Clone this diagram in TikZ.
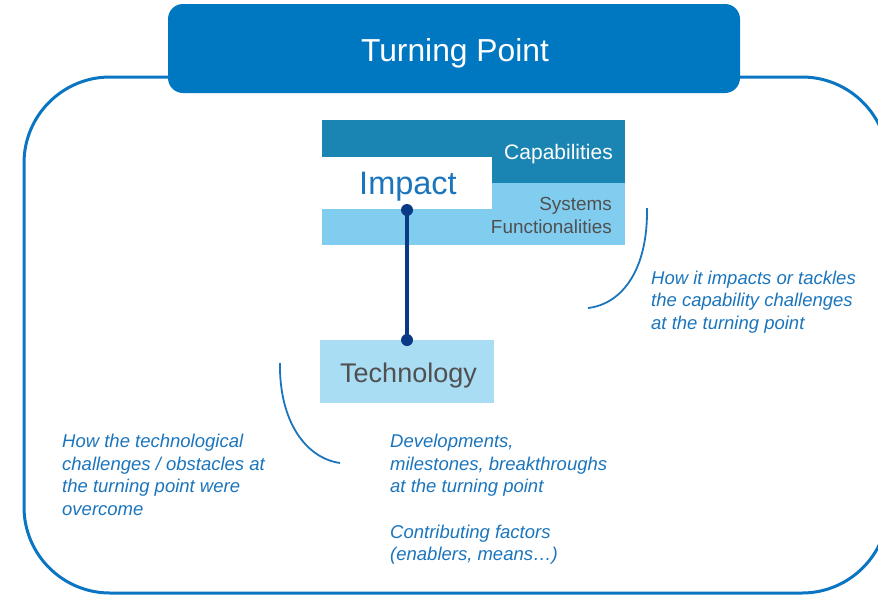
\documentclass[tikz,border=0pt]{standalone}
\usepackage{fontspec}
\setmainfont{Liberation Sans}
\definecolor{titleblue}{HTML}{0077C1}
\definecolor{borderblue}{HTML}{0A75C2}
\definecolor{capteal}{HTML}{1A84B2}
\definecolor{syslight}{HTML}{80CDEF}
\definecolor{techlight}{HTML}{A9DDF3}
\definecolor{navy}{HTML}{0A3A85}
\definecolor{textblue}{HTML}{1B75BC}
\definecolor{graytext}{HTML}{505050}
\begin{document}
\begin{tikzpicture}[x=1pt,y=-1pt,
  note/.style={font=\fontsize{18.5}{22.6}\selectfont\itshape, text=textblue, align=left, anchor=north west, inner sep=0pt},
  bracket/.style={draw=textblue, line width=1.8pt},
  dotnode/.style={circle, fill=navy, minimum size=12pt, inner sep=0pt}]
\useasboundingbox (0,0) rectangle (878,595);
% outer frame
\draw[borderblue, line width=3pt, rounded corners=86pt] (24,77) rectangle (888,593);
% title
\node[fill=titleblue, rounded corners=15pt, minimum width=572pt, minimum height=89pt, inner sep=0pt] (title) at (454,48.5) {};
\node[font=\fontsize{31.8}{36}\selectfont, text=white, anchor=base, inner sep=0pt] (titletext) at (455,61) {Turning Point};
% impact block
\fill[capteal] (322,120) rectangle (625,183);
\fill[syslight] (322,183) rectangle (625,245);
\fill[white] (322,157) rectangle (492,209);
\node[font=\fontsize{32.5}{36}\selectfont, text=textblue, anchor=base, inner sep=0pt] (impact) at (408,194) {Impact};
\node[font=\fontsize{21}{24}\selectfont, text=white, anchor=base east, inner sep=0pt] (cap) at (613,159) {Capabilities};
\node[font=\fontsize{18.9}{23}\selectfont, text=graytext, anchor=base east, inner sep=0pt] (sys) at (612,210) {Systems};
\node[font=\fontsize{18.9}{23}\selectfont, text=graytext, anchor=base east, inner sep=0pt] (func) at (612,233) {Functionalities};
% technology
\node[fill=techlight, minimum width=174pt, minimum height=63pt, inner sep=0pt] (techbox) at (407,371.5) {};
\node[font=\fontsize{27}{30}\selectfont, text=graytext, anchor=base, inner sep=0pt] (tech) at (408.5,382) {Technology};
% connector
\node[dotnode] (d1) at (407,210) {};
\node[dotnode] (d2) at (407,340) {};
\draw[navy, line width=4pt] (d1.center) -- (d2.center);
% brackets
\draw[bracket] (647,208) .. controls (648,270) and (622,304) .. (588,308);
\draw[bracket] (280,363) .. controls (279,420) and (305,458) .. (340,463);
% notes
\node[note] (n1) at (651,270.5) {How it impacts or tackles\\the capability challenges\\at the turning point};
\node[note] (n2) at (62,434) {How the technological\\challenges / obstacles at\\the turning point were\\overcome};
\node[note] (n3) at (390,434) {Developments,\\milestones, breakthroughs\\at the turning point\\[22.6pt]Contributing factors\\(enablers, means…)};
\end{tikzpicture}
\end{document}
